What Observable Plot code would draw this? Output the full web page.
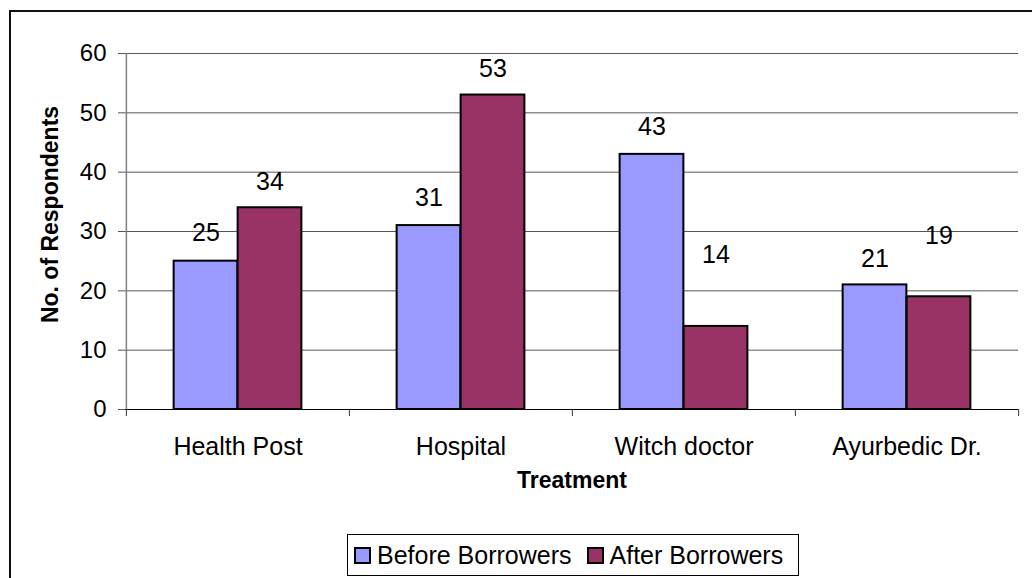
<!DOCTYPE html>
<html>
<head>
<meta charset="utf-8">
<script src="https://cdn.jsdelivr.net/npm/d3@7"></script>
<script src="https://cdn.jsdelivr.net/npm/@observablehq/plot@0.6"></script>
<style>
  html, body { margin: 0; padding: 0; background: #fff; overflow: hidden; width: 1032px; height: 578px;
    font-family: "Liberation Sans", Arial, sans-serif; }
  #frame { position: absolute; left: 9px; top: 10px; width: 1100px; height: 700px;
    border-left: 2px solid #111; border-top: 2px solid #111; }
  #chart { position: absolute; left: 0; top: 0; }
  #legend { position: absolute; left: 347px; top: 534px; height: 40px; border: 1px solid #000;
    display: flex; align-items: center; padding: 0 15px 0 6px; font-size: 25px; background: #fff; color: #000; }
  #legend .item { display: flex; align-items: center; }
  #legend .item + .item { margin-left: 15px; }
  #legend .sw { width: 13px; height: 13px; border: 2px solid #000; margin-right: 6px; }
</style>
</head>
<body>
<div id="frame"></div>
<div id="chart"></div>
<div id="legend"></div>
<script>
// Treatment sought, before and after becoming borrowers
const categories = ["Health Post", "Hospital", "Witch doctor", "Ayurbedic Dr."];
const seriesNames = ["Before Borrowers", "After Borrowers"];
const beforeValues = [25, 31, 43, 21];
const afterValues = [34, 53, 14, 19];
const yTicks = [0, 10, 20, 30, 40, 50, 60];
const seriesColors = ["#9999ff", "#993366"];

// vertical offsets (px) of the value labels above each bar
const beforeLabelDy = [-28, -28, -27, -26];
const afterLabelDy = [-26, -26, -71, -61];

const rows = categories.flatMap((c, i) => [
  {category: c, series: seriesNames[0], value: beforeValues[i], dy: beforeLabelDy[i]},
  {category: c, series: seriesNames[1], value: afterValues[i], dy: afterLabelDy[i]}
]);

const W = 1032, H = 520;
const mL = 125, mR = 14, mT = 53, mB = 111;
const band = (W - mL - mR) / categories.length;
const barW = 64;
const outer = (band - 2 * barW) / 2;

const before = rows.filter(d => d.series === seriesNames[0]);
const after = rows.filter(d => d.series === seriesNames[1]);

const plot = Plot.plot({
  width: W,
  height: H,
  marginLeft: mL,
  marginRight: mR,
  marginTop: mT,
  marginBottom: mB,
  style: {fontFamily: "'Liberation Sans', Arial, sans-serif", fontSize: "24px", color: "#000", background: "transparent", overflow: "visible"},
  x: {domain: categories, padding: 0, axis: null},
  y: {domain: [yTicks[0], yTicks[yTicks.length - 1]], axis: null},
  marks: [
    // horizontal gridlines
    Plot.ruleY(yTicks.slice(1), {stroke: "#555", strokeWidth: 1}),
    // value axis line
    Plot.ruleX([categories[0]], {dx: -band / 2, stroke: "#808080", strokeWidth: 1.5}),
    Plot.axisY({ticks: yTicks, tickSize: 7, tickPadding: 12, fontSize: 24, stroke: "#555", label: null}),
    // category boundary ticks
    Plot.axisX({ticks: categories, tickSize: 7, dx: -band / 2, tickFormat: () => "", stroke: "#333", label: null}),
    Plot.axisX({ticks: [categories[categories.length - 1]], tickSize: 7, dx: band / 2, tickFormat: () => "", stroke: "#333", label: null}),
    // category labels
    Plot.axisX({ticks: categories, tickSize: 0, tickPadding: 28, fontSize: 25, label: null}),
    // bars
    Plot.barY(before, {x: "category", y: "value", fill: seriesColors[0], stroke: "#000", strokeWidth: 2,
      insetLeft: outer, insetRight: band - outer - barW}),
    Plot.barY(after, {x: "category", y: "value", fill: seriesColors[1], stroke: "#000", strokeWidth: 2,
      insetLeft: outer + barW, insetRight: outer}),
    // category axis line
    Plot.ruleY([0], {stroke: "#000", strokeWidth: 1.2}),
    // value labels
    ...before.map(d => Plot.text([d], {x: "category", y: "value", text: "value", dx: outer + barW / 2 - band / 2, dy: d.dy, fontSize: 25, fill: "#000"})),
    ...after.map(d => Plot.text([d], {x: "category", y: "value", text: "value", dx: outer + 1.5 * barW - band / 2, dy: d.dy, fontSize: 25, fill: "#000"})),
    // axis titles
    Plot.text(["No. of Respondents"], {frameAnchor: "left", textAnchor: "middle", rotate: -90, dx: -75, dy: -17, fontSize: 23, fontWeight: "bold", fill: "#000"}),
    Plot.text(["Treatment"], {frameAnchor: "bottom", dy: 78, fontSize: 23, fontWeight: "bold", fill: "#000"})
  ]
});
document.getElementById("chart").appendChild(plot);

// legend below the chart
const legend = document.getElementById("legend");
seriesNames.forEach((name, i) => {
  const item = document.createElement("div");
  item.className = "item";
  const sw = document.createElement("div");
  sw.className = "sw";
  sw.style.background = seriesColors[i];
  const label = document.createElement("span");
  label.textContent = name;
  item.appendChild(sw);
  item.appendChild(label);
  legend.appendChild(item);
});
</script>
</body>
</html>
